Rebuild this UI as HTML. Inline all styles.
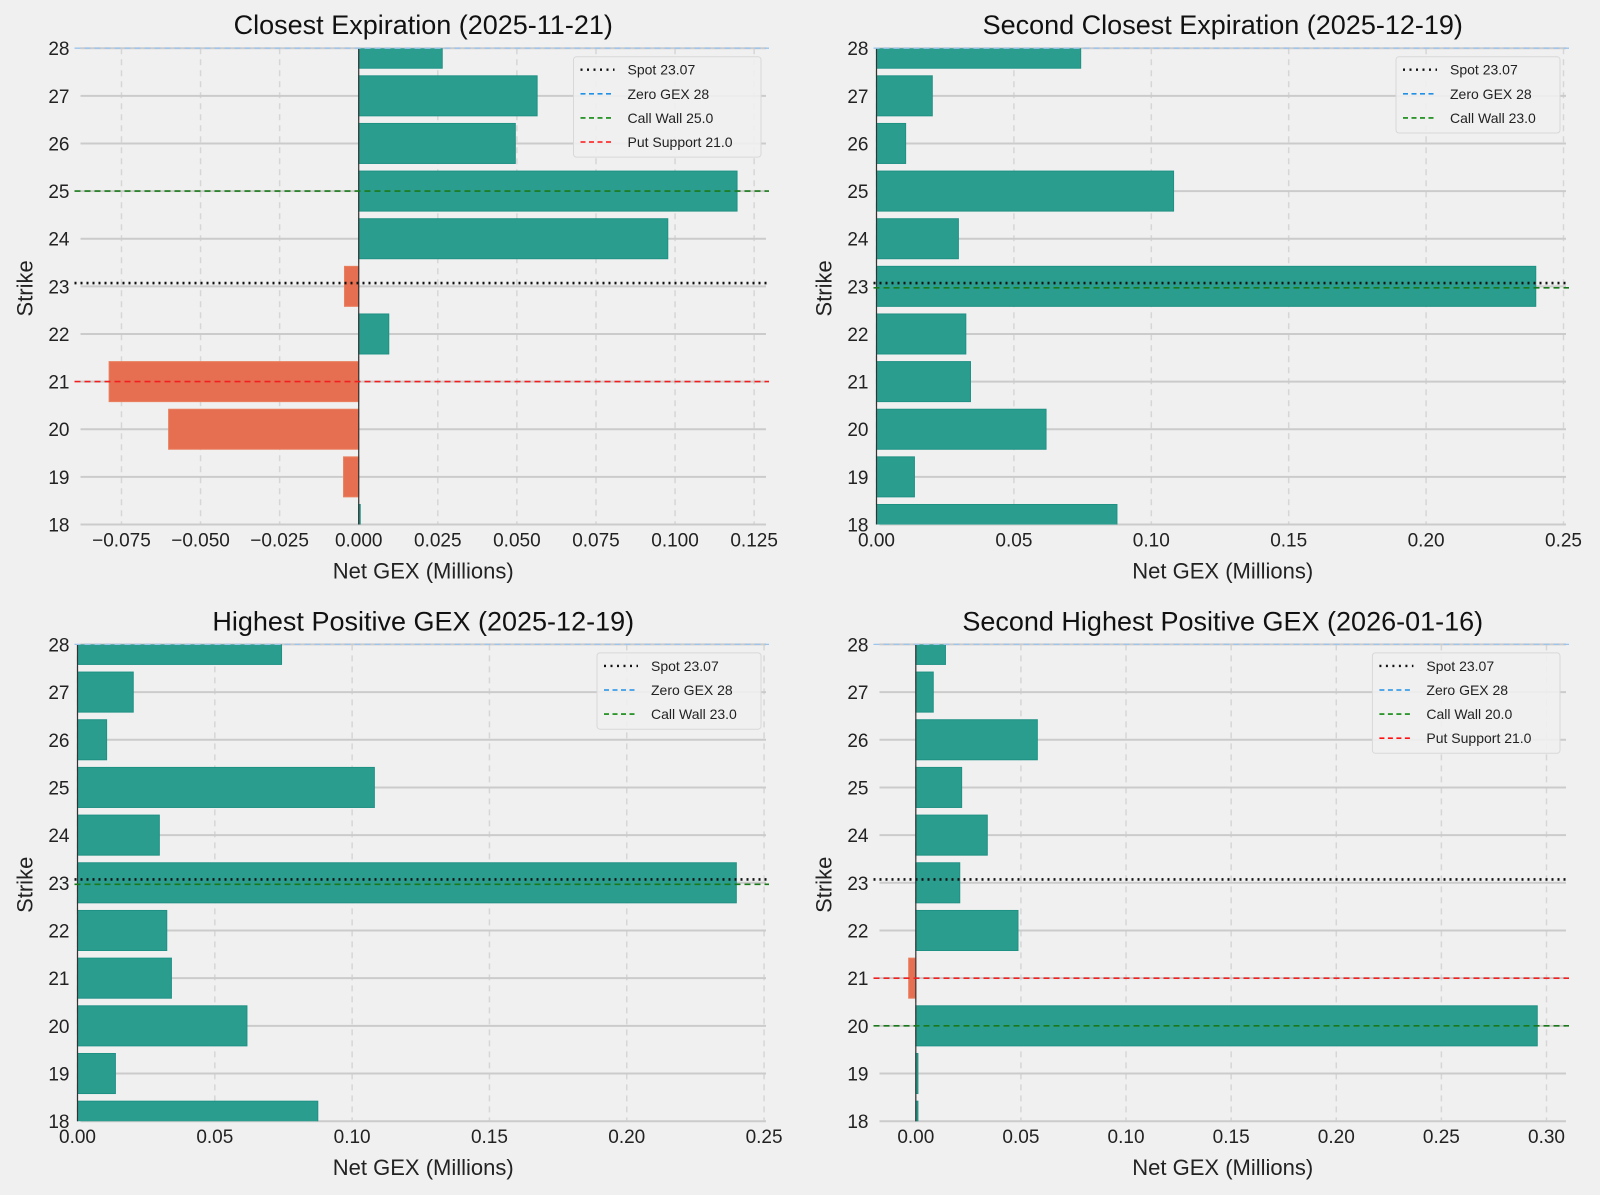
<!DOCTYPE html>
<html><head><meta charset="utf-8">
<style>
html,body{margin:0;padding:0;background:#f0f0f0;}
svg{display:block;font-family:"Liberation Sans",sans-serif;}
</style></head>
<body>
<svg id="chart" width="1600" height="1195" viewBox="0 0 1600 1195" xmlns="http://www.w3.org/2000/svg">
<rect width="1600" height="1195" fill="#f0f0f0"/>
</svg>
<script>
const strikes = [18,19,20,21,22,23,24,25,26,27,28];
const closestValues = [0.0003,-0.0048,-0.0601,-0.0789,0.0095,-0.0045,0.0977,0.1196,0.0495,0.0564,0.0264];
const secondClosestValues = [0.0875,0.0138,0.0617,0.0342,0.0325,0.2399,0.0298,0.1081,0.0106,0.0203,0.0743];
const highestValues = [0.0875,0.0138,0.0617,0.0342,0.0325,0.2399,0.0298,0.1081,0.0106,0.0203,0.0743];
const secondHighestValues = [0.001,0.001,0.2956,-0.0034,0.0486,0.0209,0.034,0.0218,0.0578,0.0083,0.0141];
const ticksA = [-0.075,-0.05,-0.025,0,0.025,0.05,0.075,0.1,0.125];
const tickLabelsA = ["\u22120.075","\u22120.050","\u22120.025","0.000","0.025","0.050","0.075","0.100","0.125"];
const ticksB = [0,0.05,0.1,0.15,0.2,0.25];
const tickLabelsB = ["0.00","0.05","0.10","0.15","0.20","0.25"];
const ticksC = [0,0.05,0.1,0.15,0.2,0.25,0.3];
const tickLabelsC = ["0.00","0.05","0.10","0.15","0.20","0.25","0.30"];
const spot = 23.07;
const zeroGex = 28;
const callWalls = [25.0, 23.0, 23.0, 20.0];
const putSupports = [21.0, null, null, 21.0];

const panels = [
 {name:'closest',title:'Closest Expiration (2025-11-21)',vals:closestValues,ticks:ticksA,labels:tickLabelsA,x0:77.5,x1:769,xmin:-0.0889,xmax:0.1297,yTop:48.2,yBot:524.5,lx:573.5,lw:187.5,zeroLine:true},
 {name:'second-closest',title:'Second Closest Expiration (2025-12-19)',vals:secondClosestValues,ticks:ticksB,labels:tickLabelsB,x0:876.5,x1:1569,xmin:0,xmax:0.252,yTop:48.2,yBot:524.5,lx:1396,lw:164,zeroLine:true},
 {name:'highest-positive',title:'Highest Positive GEX (2025-12-19)',vals:highestValues,ticks:ticksB,labels:tickLabelsB,x0:77.5,x1:769,xmin:0,xmax:0.2518,yTop:644.4,yBot:1121.2,lx:597,lw:164,zeroLine:true},
 {name:'second-highest-positive',title:'Second Highest Positive GEX (2026-01-16)',vals:secondHighestValues,ticks:ticksC,labels:tickLabelsC,x0:876.5,x1:1569,xmin:-0.0187,xmax:0.3107,yTop:644.4,yBot:1121.2,lx:1372.4,lw:187.6,zeroLine:true}
];
const NS='http://www.w3.org/2000/svg';
const svg=document.getElementById('chart');
function mk(tag,attrs,parent){const e=document.createElementNS(NS,tag);for(const k in attrs)e.setAttribute(k,attrs[k]);(parent||svg).appendChild(e);return e;}

panels.forEach((p,pi)=>{
  const g=mk('g',{});
  
  
  const xs=v=>p.x0+(v-p.xmin)/(p.xmax-p.xmin)*(p.x1-p.x0);
  const per=(p.yBot-p.yTop)/10;
  const ys=s=>p.yTop+(28-s)*per;
  const cid='clip'+pi;
  const cp=mk('clipPath',{id:cid},g);
  mk('rect',{x:p.x0,y:p.yTop,width:p.x1-p.x0,height:p.yBot-p.yTop},cp);
  // vertical grid
  p.ticks.forEach((t,i)=>{
    const x=xs(t);
    const l=mk('line',{x1:x,x2:x,y1:p.yTop,y2:p.yBot,stroke:'#d6d6d6','stroke-width':1.5,'stroke-dasharray':'6,5'},g);
    
    
    const tx=mk('text',{x:x,y:p.yBot+22,'font-size':19,'text-anchor':'middle',fill:'#222'},g);
    
    
    tx.textContent=p.labels[i];
  });
  strikes.forEach(s=>{
    const y=ys(s);
    const l=mk('line',{x1:p.x0+3,x2:p.x1-3,y1:y,y2:y,stroke:'#cbcbcb','stroke-width':2},g);
    
    
    const tx=mk('text',{x:p.x0-8,y:y+7,'font-size':19,'text-anchor':'end',fill:'#222'},g);
    
    
    tx.textContent=s;
  });
  const bars=mk('g',{'clip-path':'url(#'+cid+')'},g);
  p.vals.forEach((v,i)=>{
    const s=strikes[i];
    const xa=xs(0),xb=xs(v);
    const r=mk('rect',{x:Math.min(xa,xb),y:ys(s)-per*0.42,width:Math.max(Math.abs(xb-xa),1.5),height:per*0.84,fill:v>=0?'#2a9d8f':'#e76f51',stroke:v>=0?'#1f9184':'#e8805f','stroke-width':1},bars);
    
    
  });
  if(p.zeroLine){
    const z=mk('line',{x1:xs(0),x2:xs(0),y1:p.yTop,y2:p.yBot,stroke:'#333','stroke-width':1.2},g);
    
    
  }
  const L=[];
  L.push({label:'Spot '+spot.toFixed(2),y:spot,color:'#111',dash:'2,4',w:2.6,name:'spot-line'});
  L.push({label:'Zero GEX '+zeroGex,y:zeroGex,color:'#9cc4ec',dash:'6,4',w:1.3,name:'zero-gex-line',lc:'#1f8fe8'});
  L.push({label:'Call Wall '+callWalls[pi].toFixed(1),y:callWalls[pi],color:'#1a7a1a',dash:'6,4',w:1.6,name:'call-wall-line',lc:'#118811'});
  if(putSupports[pi]!==null)L.push({label:'Put Support '+putSupports[pi].toFixed(1),y:putSupports[pi],color:'#f02020',dash:'6,4',w:1.6,name:'put-support-line',lc:'#ff1010'});
  L.forEach(o=>{
    let y=ys(o.y); if(o.name==='call-wall-line'&&Math.abs(o.y-spot)<0.5) y+=1.5;
    const l=mk('line',{x1:p.x0-3,x2:p.x1,y1:y,y2:y,stroke:o.color,'stroke-width':o.w,'stroke-dasharray':o.dash},g);
    
    
  });
  // legend
  const lg=mk('g',{},g);
  
  
  const ly=p.yTop+8.5;
  mk('rect',{x:p.lx,y:ly,width:p.lw,height:L.length*24.1+4,rx:3,fill:'#f0f0f0',stroke:'#d8d8d8','stroke-width':1,'fill-opacity':0.9},lg);
  L.forEach((o,i)=>{
    const yy=ly+13+i*24.1;
    const e=mk('g',{},lg);
    
    
    mk('line',{x1:p.lx+7,x2:p.lx+41,y1:yy,y2:yy,stroke:o.lc||o.color,'stroke-width':o.name==='spot-line'?2.4:1.6,'stroke-dasharray':o.name==='spot-line'?'2,4.5':'5,3.5'},e);
    const t=mk('text',{x:p.lx+54,y:yy+5,'font-size':14,fill:'#222'},e);
    t.textContent=o.label;
  });
  const cx=(p.x0+p.x1)/2;
  const tt=mk('text',{x:cx,y:p.yTop-14,'font-size':27,'text-anchor':'middle',fill:'#111'},g);
  
  
  tt.textContent=p.title;
  const xl=mk('text',{x:cx,y:p.yBot+54,'font-size':22,'text-anchor':'middle',fill:'#222'},g);
  
  
  xl.textContent='Net GEX (Millions)';
  const yc=(p.yTop+p.yBot)/2+2;
  const yl=mk('text',{x:p.x0-45,y:yc,'font-size':22,'text-anchor':'middle',fill:'#222',transform:'rotate(-90 '+(p.x0-45)+' '+yc+')'},g);
  
  
  yl.textContent='Strike';
});
</script>
</body></html>
